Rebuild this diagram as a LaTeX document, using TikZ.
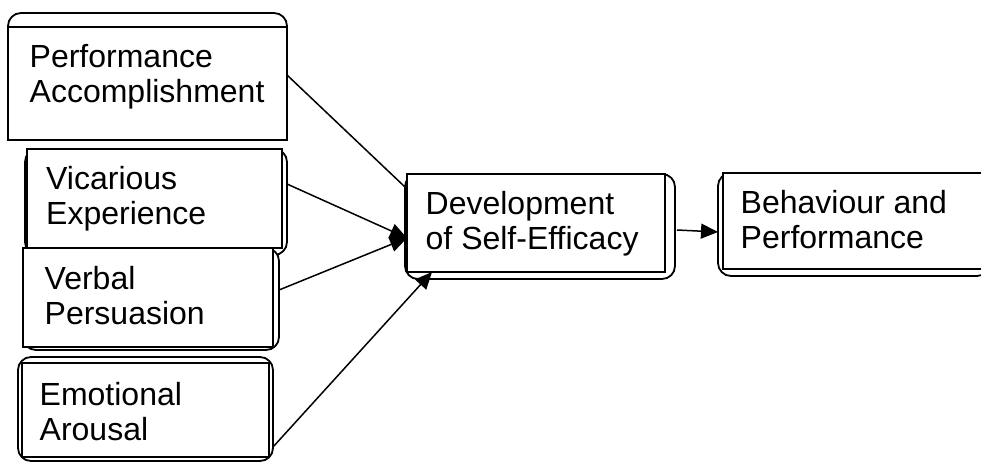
\documentclass[tikz,border=0pt]{standalone}
\usepackage{fontspec}
\setmainfont{Liberation Sans}
\usetikzlibrary{arrows.meta}
\begin{document}
\begin{tikzpicture}[x=1pt,y=-1pt,
  back/.style={draw, line width=1.8pt, rounded corners=13pt, inner sep=0pt, outer sep=0pt, fill=white},
  front/.style={draw, line width=1.8pt, inner sep=0pt, outer sep=0pt, fill=white},
  txt/.style={anchor=base west, align=left, inner sep=0pt, font=\fontsize{32}{35}\selectfont},
  link/.style={line width=1.5pt},
  head/.style={-{Triangle[length=17pt,width=15pt]}}]
\useasboundingbox (0,0) rectangle (981,462);
\clip (0,0) rectangle (981,462);

% source boxes: a rounded frame behind a square one
% (text nodes are anchored at the baseline of their last line)
\node[back, minimum width=279pt, minimum height=114pt] (perfback) at (147.5,70) {};
\node[front, minimum width=279pt, minimum height=113pt] (perf) at (147.5,83.5) {};
\node[txt] (perftext) at (29.5,103) {Performance\\Accomplishment};

\node[back, minimum width=262pt, minimum height=106pt] (vicback) at (156,202) {};
\node[front, minimum width=255pt, minimum height=99pt] (vic) at (154.5,198.5) {};
\node[txt] (victext) at (46,225) {Vicarious\\Experience};

\node[back, minimum width=256pt, minimum height=102pt] (verbback) at (151,299) {};
\node[front, minimum width=250pt, minimum height=99pt] (verb) at (148,297.5) {};
\node[txt] (verbtext) at (44.5,324) {Verbal\\Persuasion};

\node[back, minimum width=255pt, minimum height=104pt] (emoback) at (145.5,409) {};
\node[front, minimum width=247pt, minimum height=94pt] (emo) at (145.5,410) {};
\node[txt] (emotext) at (39.5,440) {Emotional\\Arousal};

% central and result boxes
\node[back, minimum width=270pt, minimum height=105pt] (devback) at (540,226.5) {};
\node[front, minimum width=258pt, minimum height=98pt] (dev) at (536,223) {};
\node[txt] (devtext) at (425.5,249) {Development\\of Self-Efficacy};

\node[back, minimum width=272pt, minimum height=103pt] (behback) at (854,224.5) {};
\node[front, minimum width=262pt, minimum height=96pt] (beh) at (854,221) {};
\node[txt] (behtext) at (740.5,248) {Behaviour and\\Performance};

% connectors
\draw[link] ([yshift=8.5pt]perf.east) -- ([xshift=-2pt,yshift=36pt]dev.west);
\draw[link, head] ([yshift=18pt]vicback.east) -- ([yshift=-15pt]dev.west);
\draw[link, head] ([yshift=9pt]verbback.east) -- ([yshift=-15pt]dev.west);
\draw[link, head] ([yshift=-38pt]emoback.east) -- ([xshift=25pt]dev.south west);
\draw[link, head] ([xshift=2pt,yshift=-3.5pt]devback.east) -- ([yshift=-7.5pt]behback.west);
\end{tikzpicture}
\end{document}
